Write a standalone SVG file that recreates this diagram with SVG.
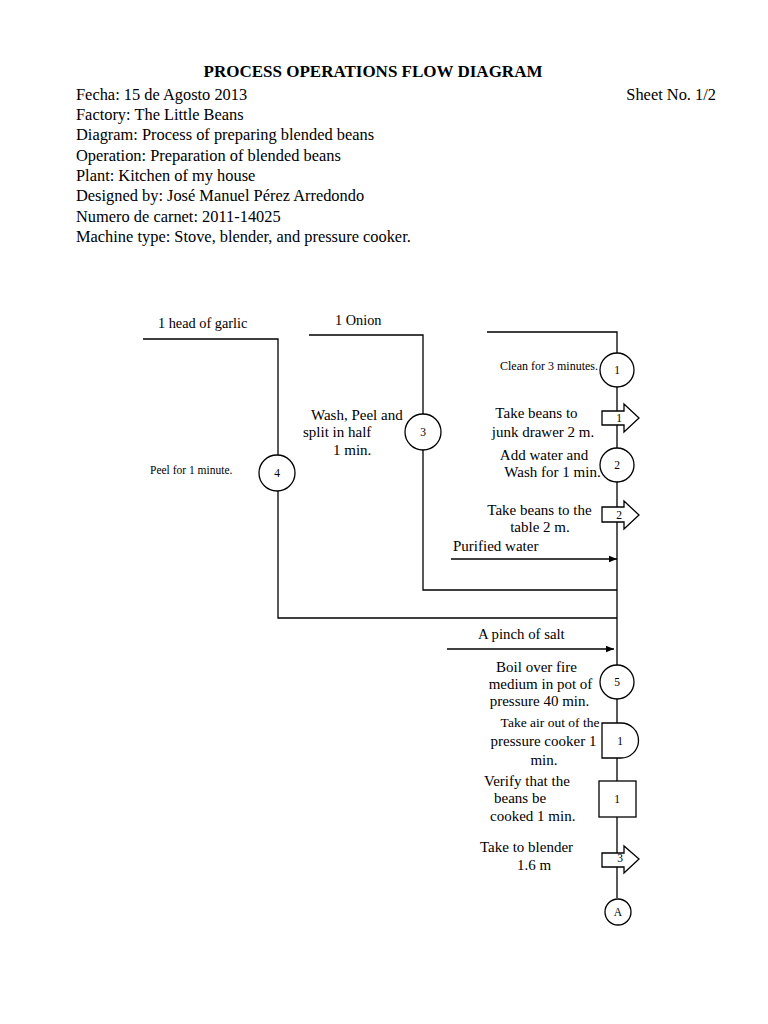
<svg xmlns="http://www.w3.org/2000/svg" width="768" height="1024" viewBox="0 0 768 1024">
<defs>
<style>
text{font-family:"Liberation Serif","Times New Roman",serif;fill:#000}
.h{font-size:16.4px}
.t{font-size:17px;font-weight:bold}
.l{font-size:15px}
.g{font-size:14.3px}
.s{font-size:11.5px}
.n{font-size:11.5px;text-anchor:middle}
.c{text-anchor:middle}
.ln{stroke:#000;stroke-width:1.3;fill:none}
.sym{stroke:#000;stroke-width:1.3;fill:#fff}
</style>
<marker id="ah" viewBox="0 0 10 10" refX="10" refY="5" markerWidth="8" markerHeight="8" markerUnits="userSpaceOnUse" orient="auto"><path d="M0,1 L10,5 L0,9 z" fill="#000"/></marker>
</defs>
<rect width="768" height="1024" fill="#fff"/>
<g id="header">
<text class="t" x="373" y="77" text-anchor="middle">PROCESS OPERATIONS FLOW DIAGRAM</text>
<text class="h" x="76" y="100">Fecha: 15 de Agosto 2013</text>
<text class="h" x="716" y="100" text-anchor="end">Sheet No. 1/2</text>
<text class="h" x="76" y="120">Factory: The Little Beans</text>
<text class="h" x="76" y="140">Diagram: Process of preparing blended beans</text>
<text class="h" x="76" y="161">Operation: Preparation of blended beans</text>
<text class="h" x="76" y="181">Plant: Kitchen of my house</text>
<text class="h" x="76" y="201">Designed by: José Manuel Pérez Arredondo</text>
<text class="h" x="76" y="222">Numero de carnet: 2011-14025</text>
<text class="h" x="76" y="242">Machine type: Stove, blender, and pressure cooker.</text>
</g>
<g id="connectors">
<path class="ln" d="M487,332 H617 V898"/>
<path class="ln" d="M143,339 H278 V618 H617"/>
<path class="ln" d="M309,335 H423 V590 H617"/>
<line class="ln" x1="451" y1="559" x2="617" y2="559" marker-end="url(#ah)"/>
<line class="ln" x1="447" y1="649" x2="614" y2="649" marker-end="url(#ah)"/>
</g>
<g id="labels">
<text class="g" x="158" y="328">1 head of garlic</text>
<text class="g" x="335" y="325">1 Onion</text>
<text class="l" x="311" y="420">Wash, Peel and</text>
<text class="l" x="303" y="437">split in half</text>
<text class="l" x="333" y="455">1 min.</text>
<text class="s" x="150" y="474">Peel for 1 minute.</text>
<text class="s" style="font-size:12px" x="500" y="370">Clean for 3 minutes.</text>
<text class="l c" x="536.5" y="418">Take beans to</text>
<text class="l c" x="543" y="437">junk drawer 2 m.</text>
<text class="l c" x="544" y="460">Add water and</text>
<text class="l c" x="552.5" y="477">Wash for 1 min.</text>
<text class="l c" x="539.5" y="515">Take beans to the</text>
<text class="l c" x="540" y="532">table 2 m.</text>
<text class="l" x="453" y="551">Purified water</text>
<text class="g" style="font-size:14.8px" x="478" y="639">A pinch of salt</text>
<text class="l c" x="536.5" y="672">Boil over fire</text>
<text class="l c" x="540.5" y="689">medium in pot of</text>
<text class="l c" x="539.5" y="706">pressure 40 min.</text>
<text class="c" style="font-size:13.5px" x="550" y="727">Take air out of the</text>
<text class="l c" x="543.5" y="746">pressure cooker 1</text>
<text class="l c" x="544" y="765">min.</text>
<text class="l" x="484" y="786">Verify that the</text>
<text class="l" x="494" y="803">beans be</text>
<text class="l" x="490" y="821">cooked 1 min.</text>
<text class="l" x="480" y="852">Take to blender</text>
<text class="l" x="517" y="870">1.6 m</text>
</g>
<g id="op1"><circle class="sym" cx="617" cy="370" r="17"/><text class="n" x="617" y="374">1</text></g>
<g id="tr1"><path class="sym" d="M602,411 H624 V404 L639,418 L624,432 V425 H602 z"/><text class="n" x="619" y="422">1</text></g>
<g id="op2"><circle class="sym" cx="617" cy="465" r="17"/><text class="n" x="617" y="469">2</text></g>
<g id="tr2"><path class="sym" d="M602,507 H624 V501 L639,515 L624,529 V522 H602 z"/><text class="n" x="619" y="519">2</text></g>
<g id="op3"><circle class="sym" cx="423" cy="432" r="18"/><text class="n" x="423" y="436">3</text></g>
<g id="op4"><circle class="sym" cx="277" cy="473" r="18"/><text class="n" x="277" y="477">4</text></g>
<g id="op5"><circle class="sym" cx="617" cy="682" r="17"/><text class="n" x="617" y="686">5</text></g>
<g id="delay1"><path class="sym" d="M602,723 H621 A17.5,17.5 0 0 1 621,758 H602 z"/><text class="n" x="620" y="745">1</text></g>
<g id="insp1"><rect class="sym" x="599" y="781" width="37" height="36"/><text class="n" x="617" y="803">1</text></g>
<g id="tr3"><path class="sym" d="M602,853 H624 V846 L639,859 L624,873 V867 H602 z"/><text class="n" x="620" y="862">3</text></g>
<g id="connA"><circle class="sym" cx="618" cy="912" r="13"/><text class="n" x="618" y="916">A</text></g>
</svg>
